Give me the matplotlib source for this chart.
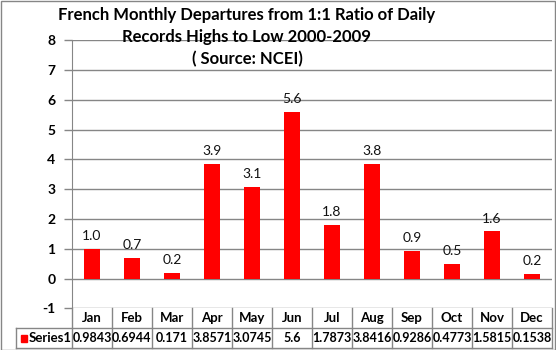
import matplotlib
matplotlib.use("Agg")
import matplotlib.pyplot as plt
from matplotlib.patches import Rectangle
from matplotlib.lines import Line2D

months = ["Jan", "Feb", "Mar", "Apr", "May", "Jun", "Jul", "Aug", "Sep", "Oct", "Nov", "Dec"]
values = [0.9843, 0.6944, 0.171, 3.8571, 3.0745, 5.6, 1.7873, 3.8416, 0.9286, 0.4773, 1.5815, 0.1538]
series_name = "Series1"
yticks = [-1, 0, 1, 2, 3, 4, 5, 6, 7, 8]
title = "French Monthly Departures from 1:1 Ratio of Daily\nRecords Highs to Low 2000-2009\n( Source: NCEI)"

W, H = 556, 350
fig = plt.figure(figsize=(W / 100, H / 100), dpi=100)
plt.rcParams['font.family'] = ['Lato', 'DejaVu Sans']

def fx(px):
    return px / W

def fy(py):
    return 1 - py / H

GRID = "#868686"
left, right, top, bot = 72, 552, 40.4, 308.3
ax = fig.add_axes([fx(left), fy(bot), fx(right) - fx(left), fy(top) - fy(bot)])
x = list(range(len(months)))
ax.bar(x, values, width=0.4, color="#FF0000", zorder=3)
ax.set_xlim(-0.5, len(months) - 0.5)
ax.set_ylim(-1, 8)
ax.set_yticks(yticks)
ax.set_yticklabels([str(t) for t in yticks], fontsize=10, fontweight="bold")
ax.set_xticks([])
ax.tick_params(axis="y", length=6, color=GRID, width=1, pad=6)
for s in ["top", "right", "bottom"]:
    ax.spines[s].set_visible(False)
ax.spines["left"].set_color(GRID)
ax.grid(axis="y", color=GRID, linewidth=1, zorder=0)

for xi, v in zip(x, values):
    ax.annotate(f"{v:.1f}", (xi, v), xytext=(0, 5), textcoords="offset points",
                ha="center", va="bottom", fontsize=10, color="#111111")

# Title
fig.text(fx(247), fy(37), title, ha="center", va="center", multialignment="center",
         fontsize=12, fontweight="bold", linespacing=1.45, zorder=5)

# Data table
row_mid = 328.3
tbot = 348
trans = fig.transFigure
lines = []
lines.append(Line2D([fx(16), fx(right)], [fy(row_mid), fy(row_mid)], color=GRID, lw=1))
lines.append(Line2D([fx(16), fx(right)], [fy(tbot), fy(tbot)], color=GRID, lw=1))
lines.append(Line2D([fx(16), fx(16)], [fy(row_mid), fy(tbot)], color=GRID, lw=1))
colw = (right - left) / len(months)
for i in range(len(months) + 1):
    xp = left + i * colw
    lines.append(Line2D([fx(xp), fx(xp)], [fy(bot), fy(tbot)], color=GRID, lw=1))
for ln in lines:
    fig.add_artist(ln)

for i, (m, v) in enumerate(zip(months, values)):
    cx = left + (i + 0.5) * colw
    fig.text(fx(cx), fy((bot + row_mid) / 2), m, ha="center", va="center",
             fontsize=9.5, fontweight="bold")
    fig.text(fx(cx), fy((row_mid + tbot) / 2), str(v), ha="center", va="center",
             fontsize=9, fontweight="bold")

fig.add_artist(Rectangle((fx(21), fy(342)), fx(6), fy(335) - fy(342), color="#FF0000",
                         transform=trans))
fig.text(fx(29), fy((row_mid + tbot) / 2), series_name, ha="left", va="center",
         fontsize=9.5, fontweight="bold")

# Outer border
fig.add_artist(Rectangle((fx(0.5), fy(349.5)), fx(554), fy(0.5) - fy(349.5), fill=False,
                         edgecolor=GRID, lw=1, transform=trans))

fig.savefig("out.png", dpi=100)
